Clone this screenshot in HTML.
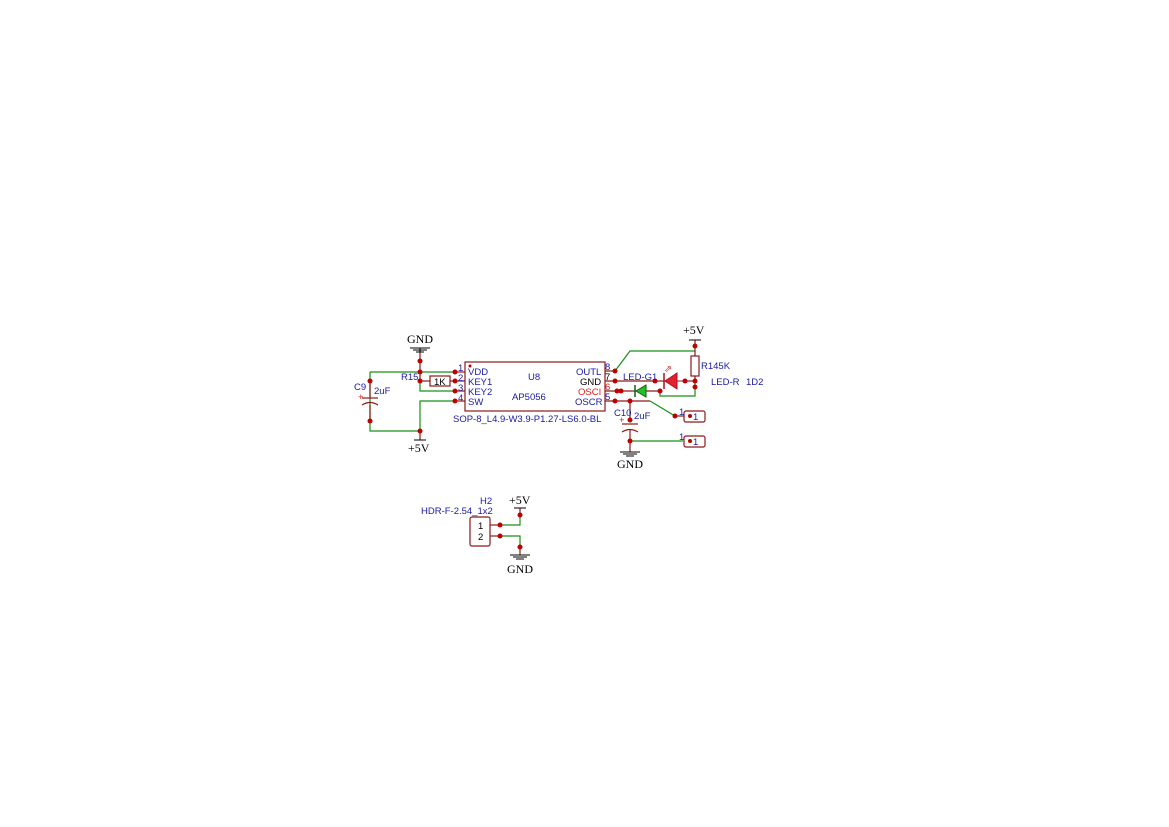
<!DOCTYPE html>
<html><head><meta charset="utf-8"><style>
html,body{margin:0;padding:0;background:#fff;}
svg{display:block}
.s{font-family:"Liberation Sans",sans-serif;font-size:9.5px;fill:#1a1aa6}
.b{font-family:"Liberation Sans",sans-serif;font-size:9.5px;fill:#000}
.r{font-family:"Liberation Sans",sans-serif;font-size:9.5px;fill:#e02020}
.t{font-family:"Liberation Serif",serif;font-size:12px;fill:#000}
</style></head><body>
<svg width="1169" height="827" viewBox="0 0 1169 827" xmlns="http://www.w3.org/2000/svg">
<g stroke="#189018" stroke-width="1.2" fill="none">
<polyline points="370,372 455,372"/>
<polyline points="370,372 370,431 420,431"/>
<polyline points="420,381 420,391 455,391"/>
<polyline points="455,401 420,401 420,431"/>
<polyline points="615,371 630,351 695,351"/>
<polyline points="660,391 660,396 695,396 695,381"/>
<polyline points="650,401 675,416"/>
<polyline points="630,441 683,441"/>
<polyline points="500,525 520,525 520,515"/>
<polyline points="500,536 520,536 520,547"/>
</g>
<g stroke="#8b1a1a" stroke-width="1.2" fill="none">
<line x1="420" y1="350" x2="420" y2="381"/>
<line x1="420" y1="381" x2="430" y2="381"/><line x1="450" y1="381" x2="455" y2="381"/>
<rect x="430" y="376" width="20" height="10" fill="#fff"/>
<line x1="370" y1="381" x2="370" y2="397"/><line x1="370" y1="405" x2="370" y2="421"/>
<line x1="362" y1="398" x2="378" y2="398"/>
<path d="M362,405 Q370,400 378,405"/>
<line x1="420" y1="431" x2="420" y2="440"/>
<rect x="465" y="362" width="140" height="49"/>
<line x1="455" y1="372" x2="465" y2="372"/><line x1="455" y1="381" x2="465" y2="381"/>
<line x1="455" y1="391" x2="465" y2="391"/><line x1="455" y1="401" x2="465" y2="401"/>
<line x1="605" y1="371" x2="615" y2="371"/><line x1="605" y1="381" x2="655" y2="381"/>
<line x1="605" y1="391" x2="660" y2="391"/><line x1="605" y1="401" x2="650" y2="401"/>
<line x1="695" y1="340" x2="695" y2="356"/><rect x="691" y="356" width="8" height="20"/>
<line x1="695" y1="376" x2="695" y2="381"/><line x1="685" y1="381" x2="695" y2="381"/>
<line x1="655" y1="381" x2="665" y2="381"/>
<line x1="630" y1="401" x2="630" y2="422"/><line x1="622" y1="424" x2="638" y2="424"/>
<path d="M622,432 Q630,427 638,432"/><line x1="630" y1="430" x2="630" y2="452"/>
<line x1="520" y1="508" x2="520" y2="515"/><line x1="520" y1="547" x2="520" y2="555"/>
<rect x="684" y="411" width="21" height="11" rx="2"/>
<rect x="684" y="436" width="21" height="11" rx="2"/>
<line x1="675" y1="416" x2="684" y2="416"/>
<rect x="470" y="517" width="20" height="29" rx="2"/>
<line x1="490" y1="525" x2="500" y2="525"/><line x1="490" y1="536" x2="500" y2="536"/>
</g>
<polygon points="665,381 677,373 677,389" fill="#e02030" stroke="#b01020"/>
<line x1="664" y1="373" x2="664" y2="389" stroke="#b01020" stroke-width="1.5"/>
<line x1="677" y1="381" x2="685" y2="381" stroke="#8b1a1a"/>
<text x="664" y="372" class="r" font-size="6">⇗</text>
<polygon points="636,391 646,385 646,397" fill="#22c022" stroke="#106010"/>
<line x1="635" y1="385" x2="635" y2="397" stroke="#106010" stroke-width="1.5"/>
<g stroke="#000" stroke-width="1">
<line x1="420" y1="348" x2="420" y2="352"/><line x1="410" y1="348" x2="430" y2="348"/><line x1="413" y1="350" x2="427" y2="350"/><line x1="416" y1="352" x2="424" y2="352"/>
<line x1="414" y1="440" x2="426" y2="440"/>
<line x1="689" y1="340" x2="701" y2="340"/>
<line x1="620" y1="452" x2="640" y2="452"/><line x1="623" y1="454" x2="637" y2="454"/><line x1="626" y1="456" x2="634" y2="456"/>
<line x1="514" y1="508" x2="526" y2="508"/>
<line x1="510" y1="555" x2="530" y2="555"/><line x1="513" y1="557" x2="527" y2="557"/><line x1="516" y1="559" x2="524" y2="559"/>
</g>
<g fill="#c00000">
<circle cx="420" cy="361" r="2.5"/><circle cx="420" cy="372" r="2.5"/><circle cx="420" cy="381" r="2.5"/>
<circle cx="455" cy="372" r="2.5"/><circle cx="455" cy="381" r="2.5"/><circle cx="455" cy="391" r="2.5"/><circle cx="455" cy="401" r="2.5"/>
<circle cx="370" cy="381" r="2.5"/><circle cx="370" cy="421" r="2.5"/><circle cx="420" cy="431" r="2.5"/>
<circle cx="470" cy="366" r="1.5"/>
<circle cx="615" cy="371" r="2.5"/><circle cx="615" cy="381" r="2.5"/><circle cx="617" cy="391" r="2.5"/><circle cx="621" cy="391" r="2.5"/><circle cx="615" cy="401" r="2.5"/>
<circle cx="695" cy="346" r="2.5"/><circle cx="695" cy="381" r="2.5"/><circle cx="695" cy="387" r="2.5"/>
<circle cx="655" cy="381" r="2.5"/><circle cx="685" cy="381" r="2.5"/><circle cx="660" cy="391" r="2.5"/>
<circle cx="630" cy="401" r="2.5"/><circle cx="630" cy="420" r="2.5"/><circle cx="630" cy="441" r="2.5"/>
<circle cx="675" cy="416" r="2.5"/><circle cx="690" cy="416" r="2"/><circle cx="690" cy="441" r="2"/>
<circle cx="500" cy="525" r="2.5"/><circle cx="500" cy="536" r="2.5"/>
<circle cx="520" cy="515" r="2.5"/><circle cx="520" cy="547" r="2.5"/>
</g>
<text x="407" y="343" class="t">GND</text>
<text x="408" y="452" class="t">+5V</text>
<text x="683" y="334" class="t">+5V</text>
<text x="617" y="468" class="t">GND</text>
<text x="509" y="504" class="t">+5V</text>
<text x="507" y="573" class="t">GND</text>
<text x="401" y="380" class="s">R15</text>
<text x="434" y="385" class="b">1K</text>
<text x="354" y="390" class="s">C9</text>
<text x="374" y="394" class="s">2uF</text>
<text x="358" y="400" class="r" font-size="8">+</text>
<text x="458" y="371" class="s">1</text><text x="458" y="381" class="s">2</text><text x="458" y="391" class="s">3</text><text x="458" y="401" class="s">4</text>
<text x="468" y="375" class="s">VDD</text><text x="468" y="385" class="s">KEY1</text><text x="468" y="395" class="s">KEY2</text><text x="468" y="405" class="s">SW</text>
<text x="528" y="380" class="s">U8</text><text x="512" y="400" class="s">AP5056</text>
<text x="576" y="375" class="s">OUTL</text><text x="580" y="385" class="b">GND</text><text x="578" y="395" class="r">OSCI</text><text x="575" y="405" class="s">OSCR</text>
<text x="605" y="370" class="s">8</text><text x="605" y="380" class="b">7</text><text x="605" y="390" class="r">6</text><text x="605" y="400" class="s">5</text>
<text x="453" y="422" class="s">SOP-8_L4.9-W3.9-P1.27-LS6.0-BL</text>
<text x="623" y="380" class="s">LED-G1</text>
<text x="701" y="369" class="s">R145K</text>
<text x="711" y="385" class="s">LED-R</text><text x="746" y="385" class="s">1D2</text>
<text x="614" y="416" class="s">C10</text><text x="634" y="419" class="s">2uF</text>
<text x="619" y="423" class="r" font-size="8">+</text>
<text x="679" y="415" class="s">1</text><text x="693" y="420" class="s">1</text>
<text x="679" y="440" class="s">1</text><text x="693" y="445" class="s">1</text>
<text x="480" y="504" class="s">H2</text>
<text x="421" y="514" class="s">HDR-F-2.54_1x2</text>
<text x="478" y="529" class="b">1</text><text x="478" y="540" class="b">2</text>
</svg>
</body></html>
